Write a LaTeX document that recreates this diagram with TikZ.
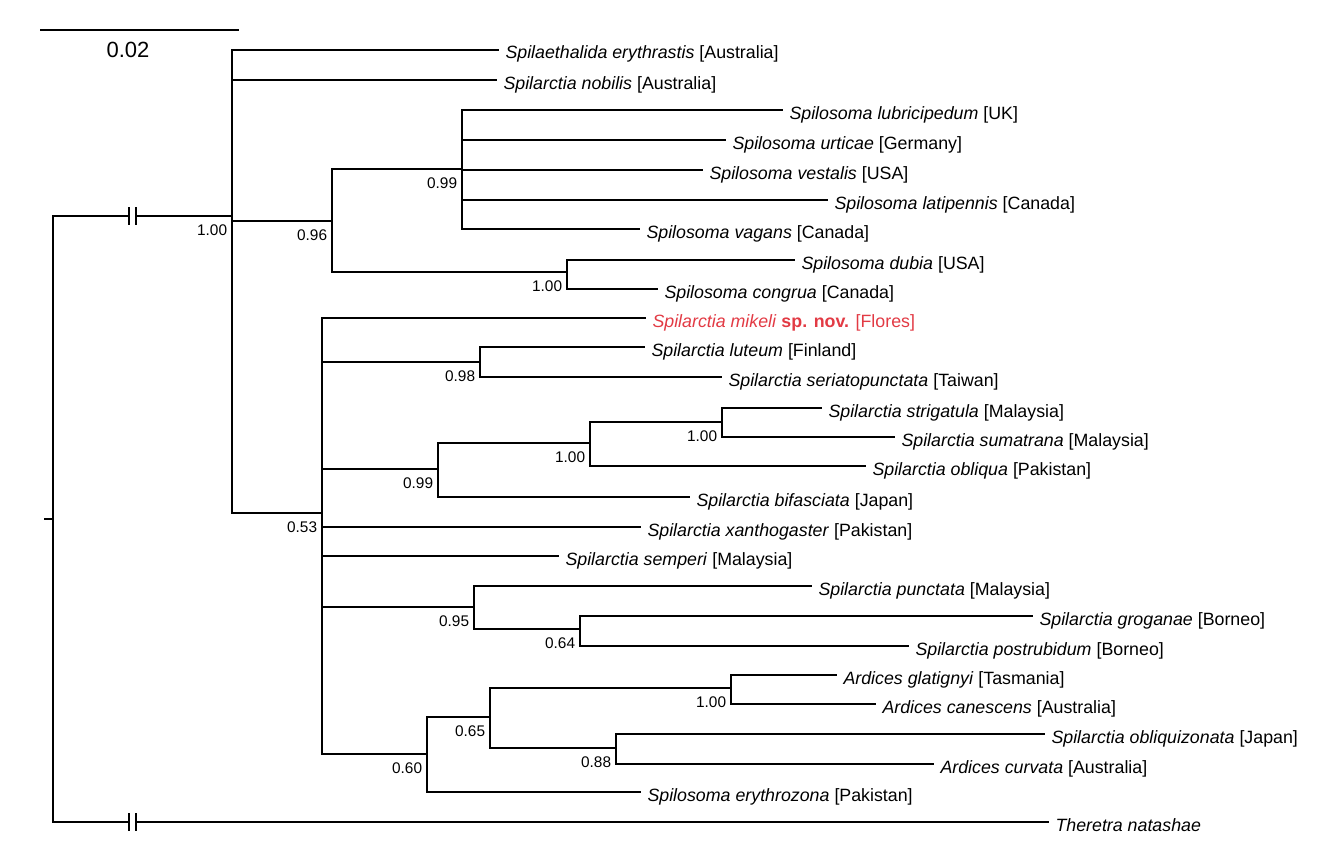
\documentclass[tikz,border=0pt]{standalone}
\usepackage{fontspec}
\setmainfont{Liberation Sans}
\definecolor{mikred}{RGB}{226,58,68}
\begin{document}
\begin{tikzpicture}[x=1pt,y=-1pt,line width=1.8pt,
  leaf/.style={anchor=west,inner xsep=6.5pt,inner ysep=0pt,outer sep=0pt,
    text height=21pt,text depth=3pt,font=\fontsize{17.8}{20}\selectfont},
  supp/.style={anchor=east,inner sep=0pt,xshift=-4pt,yshift=-14pt,
    font=\fontsize{15.4}{17}\selectfont}]
\useasboundingbox (0,0) rectangle (1338,859);
\coordinate (sb1) at (40,30);
\coordinate (sb2) at (239,30);
\draw (sb1) -- (sb2);
\node[font=\fontsize{22}{24}\selectfont,inner sep=0pt] (sbl) at (128,50) {0.02};
\coordinate (R) at (53,519);
\coordinate (rt) at (44,519);
\coordinate (A) at (232,216);
\coordinate (B) at (332,221);
\coordinate (C) at (462,169);
\coordinate (D) at (567,272);
\coordinate (H) at (322,513);
\coordinate (E) at (480,362);
\coordinate (F) at (438,469);
\coordinate (G) at (590,443);
\coordinate (G2) at (722,422);
\coordinate (J) at (474,607);
\coordinate (K) at (580,629);
\coordinate (L) at (427,754);
\coordinate (M) at (490,717);
\coordinate (N) at (731,688);
\coordinate (P) at (616,748);
\node[leaf] (eryt) at (499,50) {\textit{Spilaethalida erythrastis} [Australia]};
\node[leaf] (nobi) at (497,80) {\textit{Spilarctia nobilis} [Australia]};
\node[leaf] (lubr) at (783,110) {\textit{Spilosoma lubricipedum} [UK]};
\node[leaf] (urti) at (726,140) {\textit{Spilosoma urticae} [Germany]};
\node[leaf] (vest) at (703,170) {\textit{Spilosoma vestalis} [USA]};
\node[leaf] (lati) at (828,200) {\textit{Spilosoma latipennis} [Canada]};
\node[leaf] (vaga) at (640,229) {\textit{Spilosoma vagans} [Canada]};
\node[leaf] (dubi) at (795,260) {\textit{Spilosoma dubia} [USA]};
\node[leaf] (cong) at (658,289) {\textit{Spilosoma congrua} [Canada]};
\node[leaf,text=mikred] (mike) at (646,318) {\textit{Spilarctia mikeli} \textbf{sp. nov.} [Flores]};
\node[leaf] (lute) at (645,347) {\textit{Spilarctia luteum} [Finland]};
\node[leaf] (seri) at (722,377) {\textit{Spilarctia seriatopunctata} [Taiwan]};
\node[leaf] (stri) at (822,408) {\textit{Spilarctia strigatula} [Malaysia]};
\node[leaf] (suma) at (895,437) {\textit{Spilarctia sumatrana} [Malaysia]};
\node[leaf] (obli) at (866,466) {\textit{Spilarctia obliqua} [Pakistan]};
\node[leaf] (bifa) at (690,497) {\textit{Spilarctia bifasciata} [Japan]};
\node[leaf] (xant) at (641,527) {\textit{Spilarctia xanthogaster} [Pakistan]};
\node[leaf] (semp) at (559,556) {\textit{Spilarctia semperi} [Malaysia]};
\node[leaf] (punc) at (812,586) {\textit{Spilarctia punctata} [Malaysia]};
\node[leaf] (grog) at (1033,616) {\textit{Spilarctia groganae} [Borneo]};
\node[leaf] (post) at (909,646) {\textit{Spilarctia postrubidum} [Borneo]};
\node[leaf] (glat) at (837,675) {\textit{Ardices glatignyi} [Tasmania]};
\node[leaf] (cane) at (876,704) {\textit{Ardices canescens} [Australia]};
\node[leaf] (obzo) at (1045,734) {\textit{Spilarctia obliquizonata} [Japan]};
\node[leaf] (curv) at (934,764) {\textit{Ardices curvata} [Australia]};
\node[leaf] (eryz) at (641,792) {\textit{Spilosoma erythrozona} [Pakistan]};
\node[leaf] (nata) at (1049,822) {\textit{Theretra natashae}};
\draw (rt) -- (R);
\draw (R) |- (A);
\draw (R) |- (nata.west);
\draw (A) |- (eryt.west);
\draw (A) |- (nobi.west);
\draw (A) |- (B);
\draw (A) |- (H);
\draw (B) |- (C);
\draw (B) |- (D);
\draw (C) |- (lubr.west);
\draw (C) |- (urti.west);
\draw (C) |- (vest.west);
\draw (C) |- (lati.west);
\draw (C) |- (vaga.west);
\draw (D) |- (dubi.west);
\draw (D) |- (cong.west);
\draw (H) |- (mike.west);
\draw (H) |- (E);
\draw (H) |- (F);
\draw (H) |- (xant.west);
\draw (H) |- (semp.west);
\draw (H) |- (J);
\draw (H) |- (L);
\draw (E) |- (lute.west);
\draw (E) |- (seri.west);
\draw (F) |- (G);
\draw (F) |- (bifa.west);
\draw (G) |- (G2);
\draw (G) |- (obli.west);
\draw (G2) |- (stri.west);
\draw (G2) |- (suma.west);
\draw (J) |- (punc.west);
\draw (J) |- (K);
\draw (K) |- (grog.west);
\draw (K) |- (post.west);
\draw (L) |- (M);
\draw (L) |- (eryz.west);
\draw (M) |- (N);
\draw (M) |- (P);
\draw (N) |- (glat.west);
\draw (N) |- (cane.west);
\draw (P) |- (obzo.west);
\draw (P) |- (curv.west);
\fill[white] (130,205) rectangle (135,227);
\fill[white] (130,811) rectangle (135,833);
\draw (129,207) -- (129,225);
\draw (136,207) -- (136,225);
\draw (129,813) -- (129,831);
\draw (136,813) -- (136,831);
\node[supp] (sA) at (A) {1.00};
\node[supp] (sB) at (B) {0.96};
\node[supp] (sC) at (C) {0.99};
\node[supp] (sD) at (D) {1.00};
\node[supp] (sH) at (H) {0.53};
\node[supp] (sE) at (E) {0.98};
\node[supp] (sF) at (F) {0.99};
\node[supp] (sG) at (G) {1.00};
\node[supp] (sG2) at (G2) {1.00};
\node[supp] (sJ) at (J) {0.95};
\node[supp] (sK) at (K) {0.64};
\node[supp] (sL) at (L) {0.60};
\node[supp] (sM) at (M) {0.65};
\node[supp] (sN) at (N) {1.00};
\node[supp] (sP) at (P) {0.88};
\end{tikzpicture}
\end{document}
